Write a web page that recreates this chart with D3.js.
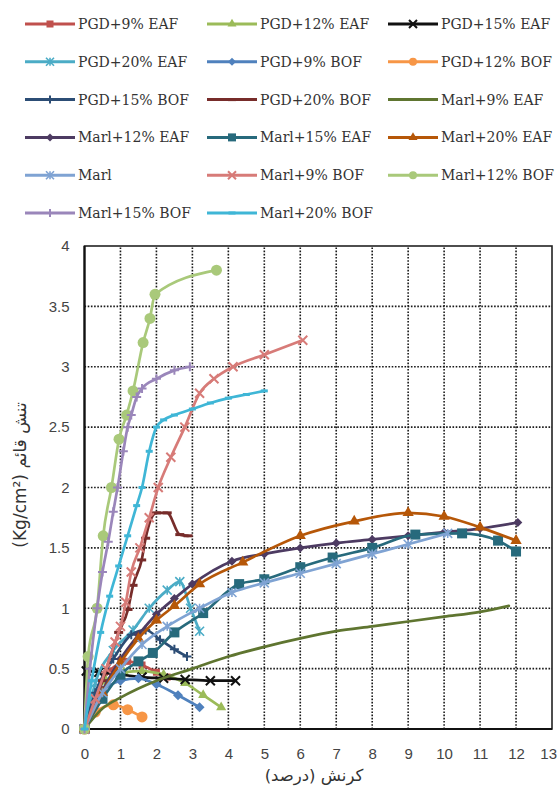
<!DOCTYPE html>
<html>
<head>
<meta charset="utf-8">
<script src="https://cdn.jsdelivr.net/npm/d3@7/dist/d3.min.js"></script>
<style>
  html, body { margin: 0; padding: 0; background: #fff; }
  svg { display: block; }
</style>
</head>
<body>
<svg id="chart" width="557" height="787"></svg>
<script>
// Strain (%) / vertical stress (Kg/cm²) readings for each mix
const seriesNames = [
  "PGD+9% EAF", "PGD+12% EAF", "PGD+15% EAF",
  "PGD+20% EAF", "PGD+9% BOF", "PGD+12% BOF",
  "PGD+15% BOF", "PGD+20% BOF", "Marl+9% EAF",
  "Marl+12% EAF", "Marl+15% EAF", "Marl+20% EAF",
  "Marl", "Marl+9% BOF", "Marl+12% BOF",
  "Marl+15% BOF", "Marl+20% BOF"
];

const pgd9EafStrain  = [0, 0.3, 0.7, 1.2, 1.6, 2.0, 2.3];
const pgd9EafStress  = [0, 0.28, 0.48, 0.56, 0.53, 0.47, 0.43];

const pgd12EafStrain = [0, 0.2, 0.6, 1.1, 1.6, 2.2, 2.8, 3.3, 3.8];
const pgd12EafStress = [0, 0.25, 0.4, 0.47, 0.48, 0.45, 0.38, 0.28, 0.18];

const pgd15EafStrain = [0, 0.05, 0.4, 1.0, 1.6, 2.2, 2.8, 3.5, 4.2];
const pgd15EafStress = [0, 0.48, 0.47, 0.45, 0.43, 0.42, 0.41, 0.4, 0.4];

const pgd20EafStrain = [0, 0.3, 0.8, 1.35, 1.8, 2.3, 2.65, 2.95, 3.2];
const pgd20EafStress = [0, 0.38, 0.65, 0.82, 1.0, 1.15, 1.22, 1.0, 0.81];

const pgd9BofStrain  = [0, 0.4, 1.0, 1.5, 2.0, 2.6, 3.2];
const pgd9BofStress  = [0, 0.28, 0.4, 0.42, 0.37, 0.28, 0.18];

const pgd12BofStrain = [0, 0.3, 0.8, 1.2, 1.6];
const pgd12BofStress = [0, 0.14, 0.2, 0.16, 0.1];

const pgd15BofStrain = [0, 0.3, 0.8, 1.3, 1.7, 2.1, 2.5, 2.85];
const pgd15BofStress = [0, 0.3, 0.58, 0.78, 0.82, 0.74, 0.66, 0.6];

const pgd20BofStrain = [0, 0.5, 0.95, 1.21, 1.35, 1.59, 1.7, 2.0, 2.3, 2.65, 2.88];
const pgd20BofStress = [0, 0.4, 0.8, 0.99, 1.19, 1.4, 1.58, 1.79, 1.79, 1.61, 1.6];

const marl9EafStrain = [0, 0.5, 1, 2, 3, 4, 5, 6, 7, 8, 9, 10, 11, 11.8];
const marl9EafStress = [0, 0.17, 0.26, 0.4, 0.5, 0.6, 0.68, 0.75, 0.81, 0.85, 0.89, 0.93, 0.97, 1.02];

const marl12EafStrain = [0, 0.5, 1, 1.5, 2, 2.5, 3, 4.1, 5, 6, 7, 8, 9, 10, 11, 12.05];
const marl12EafStress = [0, 0.32, 0.58, 0.78, 0.95, 1.08, 1.2, 1.39, 1.45, 1.5, 1.54, 1.57, 1.6, 1.63, 1.66, 1.71];

const marl15EafStrain = [0, 0.5, 1, 1.5, 1.9, 2.5, 3.3, 4.3, 5, 6, 6.9, 8, 9.2, 10.5, 11.5, 12];
const marl15EafStress = [0, 0.25, 0.45, 0.56, 0.63, 0.8, 0.96, 1.2, 1.24, 1.34, 1.42, 1.5, 1.61, 1.62, 1.56, 1.47];

const marl20EafStrain = [0, 0.5, 1, 1.5, 2, 2.5, 3.2, 4.4, 6, 7.5, 9, 10, 11, 12];
const marl20EafStress = [0, 0.3, 0.55, 0.75, 0.9, 1.02, 1.2, 1.38, 1.6, 1.72, 1.79, 1.76, 1.67, 1.56];

const marlStrain = [0, 0.5, 1, 1.6, 2.3, 3.2, 4.1, 5, 6, 7, 8, 9, 10.1];
const marlStress = [0, 0.3, 0.5, 0.7, 0.85, 1.0, 1.13, 1.21, 1.29, 1.37, 1.45, 1.53, 1.62];

const marl9BofStrain = [0, 0.3, 0.6, 0.85, 1.0, 1.15, 1.3, 1.54, 1.8, 2.05, 2.4, 2.79, 3.2, 3.6, 4.13, 5, 6.07];
const marl9BofStress = [0, 0.25, 0.5, 0.72, 0.85, 1.05, 1.3, 1.5, 1.75, 2.0, 2.25, 2.5, 2.78, 2.9, 3.0, 3.1, 3.22];

const marl12BofStrain = [0, 0.1, 0.35, 0.52, 0.75, 0.96, 1.17, 1.35, 1.63, 1.82, 1.96, 3.67];
const marl12BofStress = [0, 0.6, 1.0, 1.6, 2.0, 2.4, 2.6, 2.8, 3.2, 3.4, 3.6, 3.8];

const marl15BofStrain = [0, 0.15, 0.35, 0.5, 0.66, 0.8, 0.92, 1.08, 1.2, 1.3, 1.45, 1.6, 2.0, 2.5, 2.93];
const marl15BofStress = [0, 0.5, 1.0, 1.3, 1.55, 1.8, 2.0, 2.3, 2.5, 2.6, 2.75, 2.82, 2.9, 2.97, 3.0];

const marl20BofStrain = [0, 0.2, 0.45, 0.7, 0.95, 1.2, 1.45, 1.6, 1.8, 2.0, 2.2, 2.5, 3.0, 3.5, 4.0, 4.5, 5.0];
const marl20BofStress = [0, 0.4, 0.8, 1.1, 1.35, 1.6, 1.85, 2.0, 2.3, 2.5, 2.56, 2.6, 2.65, 2.7, 2.74, 2.77, 2.8];

const strainSets = [
  pgd9EafStrain, pgd12EafStrain, pgd15EafStrain, pgd20EafStrain,
  pgd9BofStrain, pgd12BofStrain, pgd15BofStrain, pgd20BofStrain,
  marl9EafStrain, marl12EafStrain, marl15EafStrain, marl20EafStrain,
  marlStrain, marl9BofStrain, marl12BofStrain, marl15BofStrain, marl20BofStrain
];
const stressSets = [
  pgd9EafStress, pgd12EafStress, pgd15EafStress, pgd20EafStress,
  pgd9BofStress, pgd12BofStress, pgd15BofStress, pgd20BofStress,
  marl9EafStress, marl12EafStress, marl15EafStress, marl20EafStress,
  marlStress, marl9BofStress, marl12BofStress, marl15BofStress, marl20BofStress
];

const xTicks = [0, 1, 2, 3, 4, 5, 6, 7, 8, 9, 10, 11, 12, 13];
const yTicks = [0, 0.5, 1, 1.5, 2, 2.5, 3, 3.5, 4];

const xTitle = "کرنش (درصد)";
const yTitle = "تنش قائم (Kg/cm²)";

// Styling per series
const seriesColors = [
  "#C0504D", "#9BBB59", "#111111", "#4BACC6", "#4F81BD", "#F79646",
  "#2C4D75", "#772C2A", "#5F7530", "#4D3B62", "#276A7C", "#B65708",
  "#7FA3D3", "#D77B78", "#A9C97A", "#9A86BA", "#3FB6D6"
];
const seriesMarkers = [
  "square", "triangle", "x", "asterisk", "diamond", "circle",
  "plus", "dash", "none", "diamond", "square", "triangle",
  "asterisk", "x", "circle", "plus", "dash"
];
const markerSizes = [
  7, 9, 9, 9, 10, 11,
  9, 9, 0, 9, 10, 10,
  9, 9, 11, 9, 7
];

const svg = d3.select("#chart");

const x = d3.scaleLinear().domain([0, 13]).range([84.5, 552]);
const y = d3.scaleLinear().domain([0, 4]).range([729, 246]);

// Grid
const grid = svg.append("g");
grid.selectAll("line.vg")
  .data(xTicks.filter(t => t > 0 && t < 13))
  .join("line")
  .attr("x1", d => x(d)).attr("x2", d => x(d))
  .attr("y1", y(0)).attr("y2", y(4))
  .attr("stroke", "#1a1a1a").attr("stroke-width", 1.6)
  .attr("stroke-dasharray", "1.6,1.6");
grid.selectAll("line.hg")
  .data(yTicks.filter(t => t > 0 && t < 4))
  .join("line")
  .attr("x1", x(0)).attr("x2", x(13))
  .attr("y1", d => y(d)).attr("y2", d => y(d))
  .attr("stroke", "#1a1a1a").attr("stroke-width", 1.6)
  .attr("stroke-dasharray", "1.6,1.6");

// Frame
svg.append("rect")
  .attr("x", x(0)).attr("y", y(4))
  .attr("width", x(13) - x(0)).attr("height", y(0) - y(4))
  .attr("fill", "none").attr("stroke", "#222").attr("stroke-width", 1.6);
svg.append("line")
  .attr("x1", x(0)).attr("x2", x(0)).attr("y1", y(4)).attr("y2", y(0))
  .attr("stroke", "#111").attr("stroke-width", 2.2);
svg.append("line")
  .attr("x1", x(0)).attr("x2", x(13)).attr("y1", y(0)).attr("y2", y(0))
  .attr("stroke", "#111").attr("stroke-width", 2.2);

// Axes
const tickFont = "'Liberation Sans', Arial, sans-serif";
const yAxis = svg.append("g")
  .attr("transform", `translate(${x(0)},0)`)
  .call(d3.axisLeft(y).tickValues(yTicks).tickSize(0).tickPadding(15).tickFormat(d => String(d)));
const xAxis = svg.append("g")
  .attr("transform", `translate(0,${y(0)})`)
  .call(d3.axisBottom(x).tickValues(xTicks).tickSize(0).tickPadding(19).tickFormat(d => String(d)));
[xAxis, yAxis].forEach(a => {
  a.select(".domain").remove();
  a.selectAll("text")
    .attr("font-family", tickFont)
    .attr("font-size", 15)
    .attr("fill", "#444");
});
// last strain label sits at the page edge; keep it inside
xAxis.selectAll(".tick text")
  .filter(d => d === 13)
  .attr("text-anchor", "end")
  .attr("dx", 4.5);

// Axis titles
svg.append("text")
  .attr("x", 314).attr("y", 781)
  .attr("text-anchor", "middle")
  .attr("direction", "rtl")
  .attr("font-family", "'DejaVu Sans', sans-serif")
  .attr("font-size", 16.5)
  .attr("fill", "#333")
  .text(xTitle);
svg.append("text")
  .attr("transform", "translate(26,475) rotate(-90)")
  .attr("text-anchor", "middle")
  .attr("direction", "rtl")
  .attr("font-family", "'DejaVu Sans', sans-serif")
  .attr("font-size", 17)
  .attr("fill", "#333")
  .text(yTitle);

// Marker drawing
function drawMarker(g, kind, color, size) {
  if (kind === "none") return;
  const s = size;
  if (kind === "square") {
    g.append("rect").attr("x", -s / 2).attr("y", -s / 2).attr("width", s).attr("height", s)
      .attr("fill", color);
  } else if (kind === "circle") {
    g.append("circle").attr("r", s / 2).attr("fill", color);
  } else if (kind === "triangle") {
    g.append("path").attr("d", d3.symbol().type(d3.symbolTriangle).size(s * s * 0.55)()).attr("fill", color);
  } else if (kind === "diamond") {
    g.append("path").attr("d", `M0,${-s / 2}L${s / 2},0L0,${s / 2}L${-s / 2},0Z`).attr("fill", color);
  } else if (kind === "x") {
    const h = s / 2;
    g.append("path").attr("d", `M${-h},${-h}L${h},${h}M${-h},${h}L${h},${-h}`)
      .attr("stroke", color).attr("stroke-width", 2).attr("fill", "none");
  } else if (kind === "asterisk") {
    const h = s / 2;
    g.append("path").attr("d", `M${-h},${-h}L${h},${h}M${-h},${h}L${h},${-h}M0,${-h}L0,${h}`)
      .attr("stroke", color).attr("stroke-width", 1.6).attr("fill", "none");
  } else if (kind === "plus") {
    const h = s / 2;
    g.append("path").attr("d", `M${-h},0L${h},0M0,${-h}L0,${h}`)
      .attr("stroke", color).attr("stroke-width", 2).attr("fill", "none");
  } else if (kind === "dash") {
    g.append("rect").attr("x", -s / 2).attr("y", -1.5).attr("width", s).attr("height", 3)
      .attr("fill", color);
  }
}

// Series curves
const line = d3.line()
  .x(d => x(d[0]))
  .y(d => y(d[1]))
  .curve(d3.curveMonotoneX);

const plot = svg.append("g");
seriesNames.forEach((name, i) => {
  const pts = strainSets[i].map((v, k) => [v, stressSets[i][k]]);
  const g = plot.append("g");
  g.append("path")
    .attr("d", line(pts))
    .attr("fill", "none")
    .attr("stroke", seriesColors[i])
    .attr("stroke-width", 2.7)
    .attr("stroke-linejoin", "round")
    .attr("stroke-linecap", "round");
  pts.forEach(p => {
    const m = g.append("g").attr("transform", `translate(${x(p[0])},${y(p[1])})`);
    drawMarker(m, seriesMarkers[i], seriesColors[i], markerSizes[i]);
  });
});

// Legend
const legendCols = [25, 207, 388];
const legendRowY = 24;
const legendRowStep = 37.8;
const legend = svg.append("g");
seriesNames.forEach((name, i) => {
  const col = i % 3, row = Math.floor(i / 3);
  const lx = legendCols[col], ly = legendRowY + row * legendRowStep;
  const g = legend.append("g").attr("transform", `translate(${lx},${ly})`);
  g.append("line").attr("x1", 0).attr("x2", 50).attr("y1", 0).attr("y2", 0)
    .attr("stroke", seriesColors[i]).attr("stroke-width", 3);
  const m = g.append("g").attr("transform", "translate(25,0)");
  drawMarker(m, seriesMarkers[i], seriesColors[i], Math.min(markerSizes[i], 8));
  g.append("text")
    .attr("x", 53).attr("y", 0).attr("dy", "0.35em")
    .attr("font-family", "'DejaVu Serif', serif")
    .attr("font-size", 14)
    .attr("fill", "#333")
    .text(name);
});
</script>
</body>
</html>
